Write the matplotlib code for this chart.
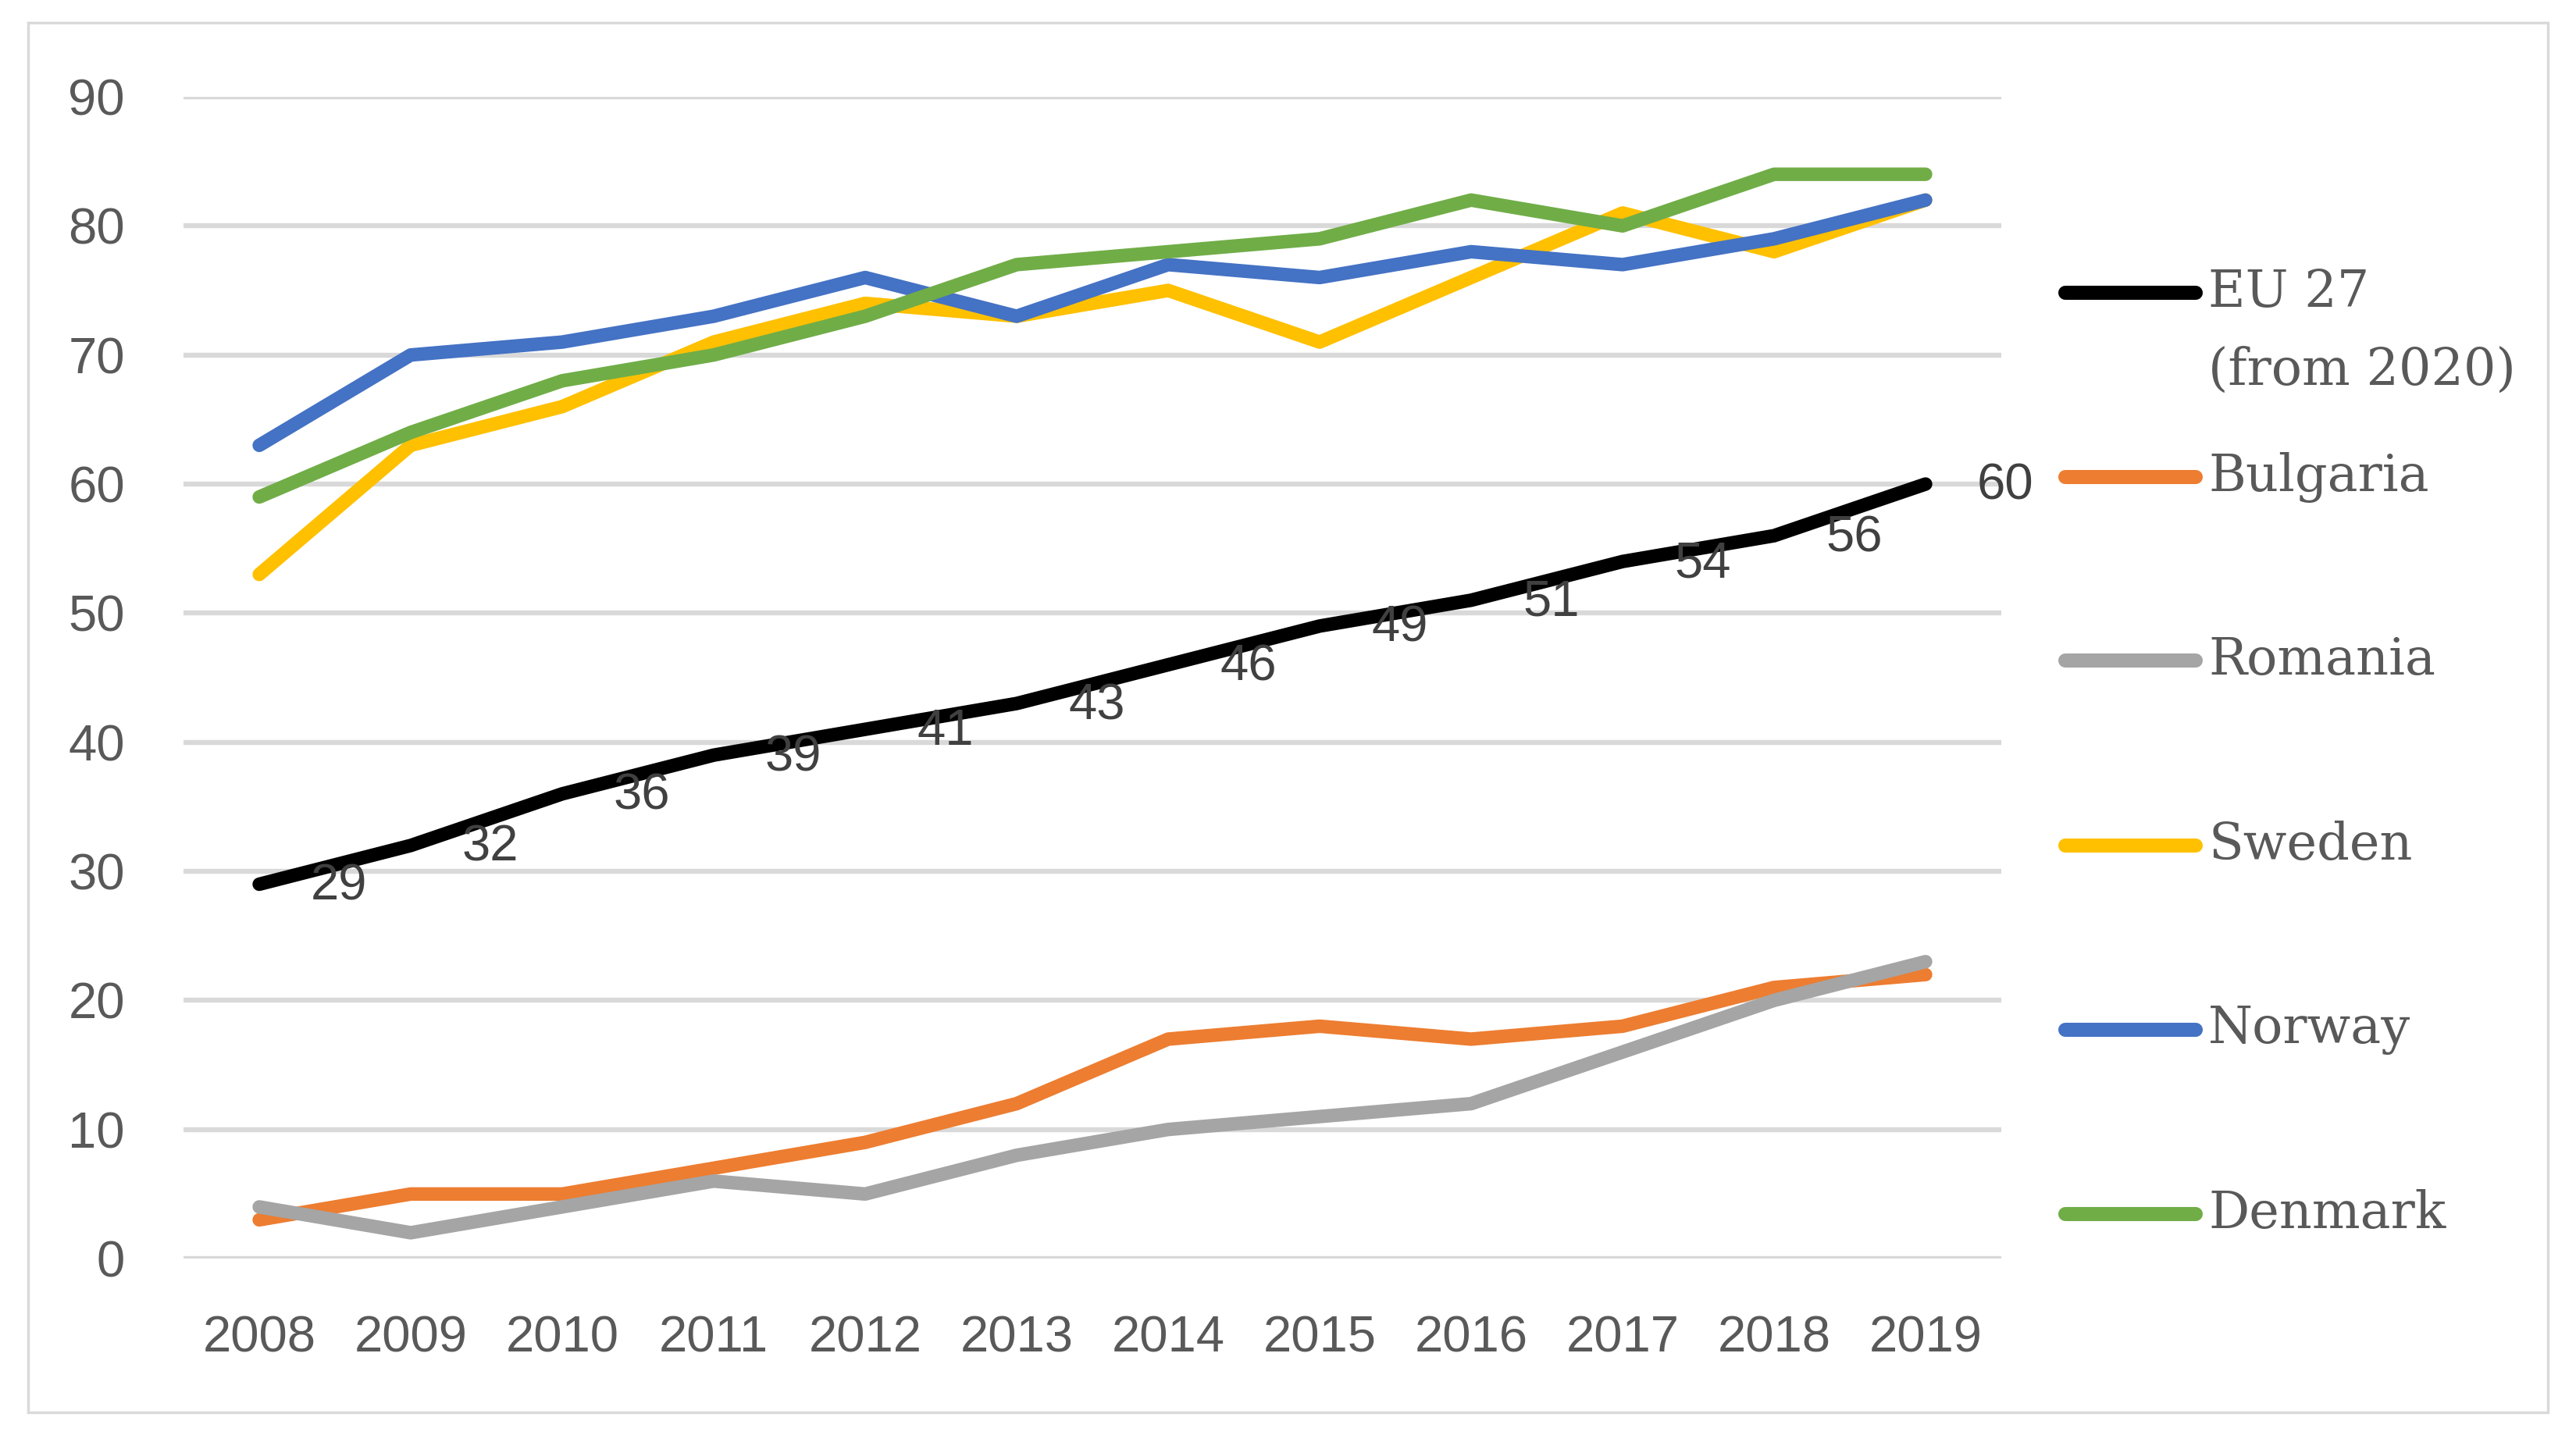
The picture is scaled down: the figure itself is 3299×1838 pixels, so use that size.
import numpy as np
import matplotlib
matplotlib.use("Agg")
import matplotlib.pyplot as plt
from matplotlib.lines import Line2D
from matplotlib.patches import Rectangle

# Data
years = [2008, 2009, 2010, 2011, 2012, 2013, 2014, 2015, 2016, 2017, 2018, 2019]
eu27 = [29, 32, 36, 39, 41, 43, 46, 49, 51, 54, 56, 60]
bulgaria = [3, 5, 5, 7, 9, 12, 17, 18, 17, 18, 21, 22]
romania = [4, 2, 4, 6, 5, 8, 10, 11, 12, 16, 20, 23]
sweden = [53, 63, 66, 71, 74, 73, 75, 71, 76, 81, 78, 82]
norway = [63, 70, 71, 73, 76, 73, 77, 76, 78, 77, 79, 82]
denmark = [59, 64, 68, 70, 73, 77, 78, 79, 82, 80, 84, 84]

labels = ["EU 27\n(from 2020)", "Bulgaria", "Romania", "Sweden", "Norway", "Denmark"]
series = [eu27, bulgaria, romania, sweden, norway, denmark]
colors = ["#000000", "#ED7D31", "#A5A5A5", "#FFC000", "#4472C4", "#70AD47"]
yticks = [0, 10, 20, 30, 40, 50, 60, 70, 80, 90]

W, H = 3299, 1838
tick_font = ["Liberation Sans", "DejaVu Sans"]

fig = plt.figure(figsize=(W / 100, H / 100), dpi=100)
fig.patch.set_facecolor("white")

# axes placed in pixel terms
left, right = 235, 2563
top, bottom = 124, 1612
ax = fig.add_axes([left / W, 1 - bottom / H, (right - left) / W, (bottom - top) / H])

for vals, col in zip(series, colors):
    ax.plot(years, vals, color=col, lw=12.5, solid_capstyle="round",
            solid_joinstyle="round", zorder=3)

# data labels for EU 27
for x, v in zip(years, eu27):
    ax.annotate(str(v), (x, v), xytext=(66, -3), textcoords="offset pixels",
                ha="left", va="center", fontsize=47, color="#404040",
                family=tick_font, zorder=4)

ax.set_xlim(2007.5, 2019.5)
ax.set_ylim(0, 90)
ax.set_xticks(years)
ax.set_xticklabels([str(y) for y in years])
ax.set_yticks(yticks)
ax.grid(axis="y", color="#D9D9D9", lw=4.6, zorder=0)
ax.tick_params(length=0, labelsize=47, labelcolor="#595959")
ax.tick_params(axis="x", pad=52)
ax.tick_params(axis="y", pad=54)
for lab in ax.get_xticklabels() + ax.get_yticklabels():
    lab.set_family(tick_font)
for s in ax.spines.values():
    s.set_visible(False)

# manual legend on the right
leg_y = [375, 611, 846, 1083, 1319, 1555]
for lab, col, yp in zip(labels, colors, leg_y):
    fy = 1 - yp / H
    fig.add_artist(Line2D([2645 / W, 2812 / W], [fy, fy], color=col, lw=13,
                          solid_capstyle="round", transform=fig.transFigure))
    for j, part in enumerate(lab.split("\n")):
        fig.text(2828 / W, 1 - (yp + j * 100) / H, part, ha="left", va="center",
                 fontsize=47, color="#595959", family="DejaVu Serif")

# light frame around the whole chart
fig.patches.append(Rectangle((36 / W, 1 - 1809 / H), (3263 - 36) / W, (1809 - 29) / H,
                             transform=fig.transFigure, fill=False,
                             edgecolor="#D9D9D9", lw=2.5))

fig.savefig("out.png", dpi=100, facecolor="white")
